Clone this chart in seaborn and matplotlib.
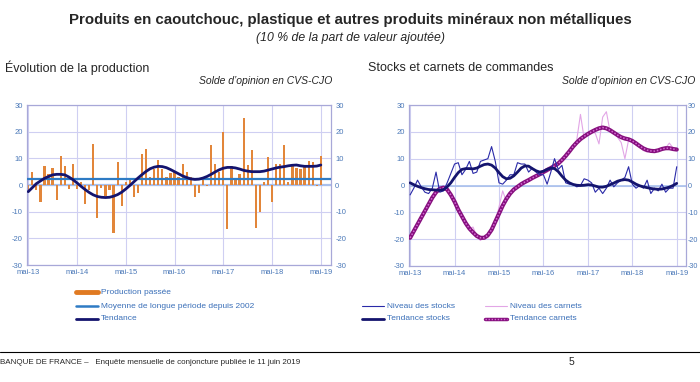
import numpy as np
import pandas as pd
import matplotlib
matplotlib.use("Agg")
import matplotlib.pyplot as plt
import seaborn as sns

# monthly data, mai-13 .. mai-19 (73 months)
months = np.arange(73)
tick_pos = [0, 12, 24, 36, 48, 60, 72]
tick_labels = ['mai-13', 'mai-14', 'mai-15', 'mai-16', 'mai-17', 'mai-18', 'mai-19']

production = [-3, 5, -2, -6.5, 7, 4, 6.5, -5.5, 11, 7, -1.5, 8, -1.5, 1, -7, -2,
              15.5, -12.5, -1, -4, -2, -18, 8.5, -8, 1, 2, -4.5, -3, 11.5, 13.5,
              3, 6, 9.5, 6, 3, 4.5, 5, 3, 8, 5, 3, -4.5, -3, 2, -0.5, 15, 8, 5,
              20, -16.5, 7, 2.5, 4, 25, 7.5, 13, -16, -10, 1, 10.5, -6.5, 8, 8,
              15, 1, 7.5, 6.5, 6, 7, 9, 8.5, -0.5, 11]
tendance = [-2.5, -1, 0.5, 1.5, 2.5, 3.2, 3.8, 4, 4, 3.8, 3, 2, 0.8, -0.5, -1.7,
            -2.8, -3.7, -4.3, -4.6, -4.7, -4.6, -4.2, -3.6, -2.7, -1.5, -0.2,
            1.2, 2.6, 3.9, 5.1, 6.1, 6.7, 7, 6.9, 6.5, 5.8, 5, 4.2, 3.4, 2.8,
            2.3, 2.1, 2.2, 2.6, 3.2, 4, 4.9, 5.7, 6.3, 6.6, 6.6, 6.4, 6, 5.5,
            5.2, 5, 5, 5, 5.2, 5.6, 6, 6.4, 6.7, 6.9, 7.2, 7.4, 7.5, 7.2, 7, 7,
            7, 7.1, 7.5]
moyenne_lp = 2.4

niveau_stocks = [-3.5, -1, 2, -0.5, -2.5, -3, -1, 5, -2.5, -2, 1, 4.5, 8, 8.5, 4,
                 6, 9, 4.5, 5, 9, 9.5, 10, 14.5, 9, 1, 0.5, 2, 4, 4, 8.5, 8, 8,
                 5, 6.5, 5, 4, 4, 0.5, 5, 10, 6, 7.5, 1, 0.5, 0.5, -0.5, 0, 2.5,
                 2, 1, -2.5, -1, -3, -1, 2, -0.5, 1, 2, 3, 7, 0.5, -1, 0, -1, 2,
                 -3, -1, -2, 0.5, -2.5, -1, -1, 7]
tendance_stocks = [1, 0.3, -0.3, -0.8, -1.2, -1.5, -1.6, -1.7, -1.8, -1.6, -0.5,
                   1, 3, 4.8, 6, 6.3, 6.3, 6.2, 6.5, 7.2, 7.8, 8, 7.6, 6.5, 4.8,
                   3.3, 2.5, 2.7, 3.6, 5, 6.5, 7.3, 7.2, 6.3, 5.5, 5, 5.3, 6,
                   6.5, 6.3, 5.2, 3.5, 2, 1, 0.4, 0.1, 0, 0.1, 0.3, 0.2, -0.2,
                   -0.6, -0.6, -0.3, 0.3, 0.9, 1.6, 2, 2.2, 2, 1.3, 0.5, -0.1,
                   -0.5, -0.8, -1.1, -1.3, -1.4, -1.3, -1, -0.6, 0, 0.8]
niveau_carnets = [-19, -16, -15, -12.5, -9, -7.5, -4, -3, -0.5, -1.5, -1, -4,
                  -5.5, -9.5, -11, -15, -16, -15.5, -19, -20.5, -19, -19.5,
                  -15.5, -14, -8, -2, -6, -3.5, -1, -1, 1, 1.5, 2.5, 2.5, 4,
                  4.5, 5.5, 5, 7, 8, 7.5, 9, 12, 13, 14, 17, 26.5, 17.5, 19.5,
                  20, 19.5, 15.5, 25.5, 27.5, 20, 20, 18, 16, 10, 17, 17, 15,
                  14.5, 13, 12.5, 13, 12.5, 13.5, 13.5, 14, 15.8, 14, 13.5]
tendance_carnets = [-19.5, -17, -14.5, -12, -9.5, -7, -4.5, -2.5, -1.2, -0.8,
                    -1.5, -3.5, -6, -9, -11.5, -14, -16, -17.5, -18.8, -19.5,
                    -19.5, -18.5, -16.5, -13.5, -10.5, -7.5, -5, -3, -1.5, -0.5,
                    0.5, 1.3, 2, 2.8, 3.5, 4.2, 5, 5.8, 6.5, 7.3, 8.2, 9.5, 11,
                    12.7, 14.5, 16, 17.3, 18.3, 19.2, 20, 20.7, 21.3, 21.6, 21.3,
                    20.6, 19.7, 18.8, 18, 17.5, 17.2, 16.6, 15.7, 14.7, 13.8,
                    13.2, 12.9, 12.8, 13.1, 13.6, 13.9, 13.9, 13.6, 13.4]

sns.set_theme(style="white")
plt.rcParams['font.family'] = ['Liberation Sans', 'DejaVu Sans']
plt.rcParams['axes.unicode_minus'] = False

W, H = 700, 382
fig = plt.figure(figsize=(W / 100, H / 100), dpi=100)

grid_c = '#CFCFF2'
spine_c = '#A8A8D8'
tick_c = '#4A78B8'


def px_axes(x0, y0, x1, y1):
    return fig.add_axes([x0 / W, 1 - y1 / H, (x1 - x0) / W, (y1 - y0) / H])


def style_axes(ax, rpad=3, rsize=5.5):
    ax.set_xlim(-0.3, 74.5)
    ax.set_ylim(-30, 30)
    ax.set_yticks(range(-30, 31, 10))
    ax.set_xticks(tick_pos)
    ax.set_xticklabels(tick_labels)
    ax.grid(True, color=grid_c, lw=0.8)
    ax.set_axisbelow(True)
    for s in ax.spines.values():
        s.set_color(spine_c)
        s.set_linewidth(0.9)
    ax.tick_params(axis='both', labelsize=5.5, colors=tick_c, length=0, pad=3)
    ax.set_xlabel('')
    ax.set_ylabel('')
    tw = ax.twinx()
    tw.set_ylim(-30, 30)
    tw.set_yticks(range(-30, 31, 10))
    tw.tick_params(axis='y', labelsize=rsize, colors=tick_c, length=0, pad=rpad)
    for s in tw.spines.values():
        s.set_visible(False)
    tw.grid(False)


# left chart
ax1 = px_axes(27, 105, 331, 265)
prod_df = pd.DataFrame({'mois': months, 'valeur': production})
sns.barplot(data=prod_df, x='mois', y='valeur', native_scale=True, width=0.55,
            color='#E2863A', saturation=1, linewidth=0, edgecolor='none',
            ax=ax1, zorder=2)
ax1.axhline(0, color='#A8C0EC', lw=1.6, zorder=1)
ax1.axhline(moyenne_lp, color='#2E7BC4', lw=1.6, zorder=3)
sns.lineplot(x=months, y=tendance, color='#14146E', lw=2.0, ax=ax1, zorder=4)
style_axes(ax1)

# right chart
ax2 = px_axes(409, 105, 686, 266)
sns.lineplot(x=months, y=niveau_carnets, color='#E2A6E6', lw=0.8, ax=ax2, zorder=2)
sns.lineplot(x=months, y=tendance_carnets, color='#86107E', lw=3.0, ax=ax2, zorder=3)
ax2.plot(months, tendance_carnets, color='#D46AD4', lw=1.1, ls=(0, (1, 1.2)), zorder=4)
sns.lineplot(x=months, y=niveau_stocks, color='#2A2AA8', lw=0.8, ax=ax2, zorder=5)
sns.lineplot(x=months, y=tendance_stocks, color='#14146E', lw=2.0, ax=ax2, zorder=6)
ax2.axhline(0, color='#A8C0EC', lw=1.2, zorder=1)
style_axes(ax2, rpad=1, rsize=5.2)

# titles
fig.text(0.5, 1 - 20 / H, "Produits en caoutchouc, plastique et autres produits minéraux non métalliques",
         ha='center', va='center', fontsize=10.8, fontweight='bold')
fig.text(0.5, 1 - 38 / H, "(10 % de la part de valeur ajoutée)", ha='center', va='center',
         fontsize=8.8, style='italic')
fig.text(5 / W, 1 - 68 / H, "Évolution de la production", ha='left', va='center', fontsize=9)
fig.text(332 / W, 1 - 81 / H, "Solde d’opinion en CVS-CJO", ha='right', va='center',
         fontsize=7.5, style='italic')
fig.text(368 / W, 1 - 68 / H, "Stocks et carnets de commandes", ha='left', va='center', fontsize=9)
fig.text(695 / W, 1 - 81 / H, "Solde d’opinion en CVS-CJO", ha='right', va='center',
         fontsize=7.5, style='italic')

# legends (drawn as small line samples + labels)
leg_c = '#3A6FB8'


def legend_item(x, y, label, color, lw, ls='-', over=None):
    xs = np.array([x, x + 22]) / W
    ys = np.array([1 - y / H] * 2)
    fig.add_artist(plt.Line2D(xs, ys, color=color, lw=lw, ls=ls))
    if over is not None:
        fig.add_artist(plt.Line2D(xs, ys, color=over, lw=1.0, ls=(0, (1, 1.2))))
    fig.text((x + 25) / W, 1 - y / H, label, ha='left', va='center', fontsize=6, color=leg_c)


legend_item(76, 292, "Production passée", '#E07A22', 3.5)
legend_item(76, 306, "Moyenne de longue période depuis 2002", '#2E7BC4', 1.8)
legend_item(76, 319, "Tendance", '#14146E', 2.0)
legend_item(362, 306, "Niveau des stocks", '#2A2AA8', 0.8)
legend_item(362, 319, "Tendance stocks", '#14146E', 2.0)
legend_item(485, 306, "Niveau des carnets", '#E2A6E6', 0.8)
legend_item(485, 319, "Tendance carnets", '#86107E', 2.5, over='#D46AD4')

# footer
fig.add_artist(plt.Line2D([0, 1], [1 - 352 / H] * 2, color='black', lw=0.8))
fig.text(0, 1 - 362 / H, "BANQUE DE FRANCE –   Enquête mensuelle de conjoncture publiée le 11 juin 2019",
         ha='left', va='center', fontsize=5.8)
fig.text(571 / W, 1 - 362 / H, "5", ha='center', va='center', fontsize=7.5)

fig.savefig('out.png', dpi=100)
